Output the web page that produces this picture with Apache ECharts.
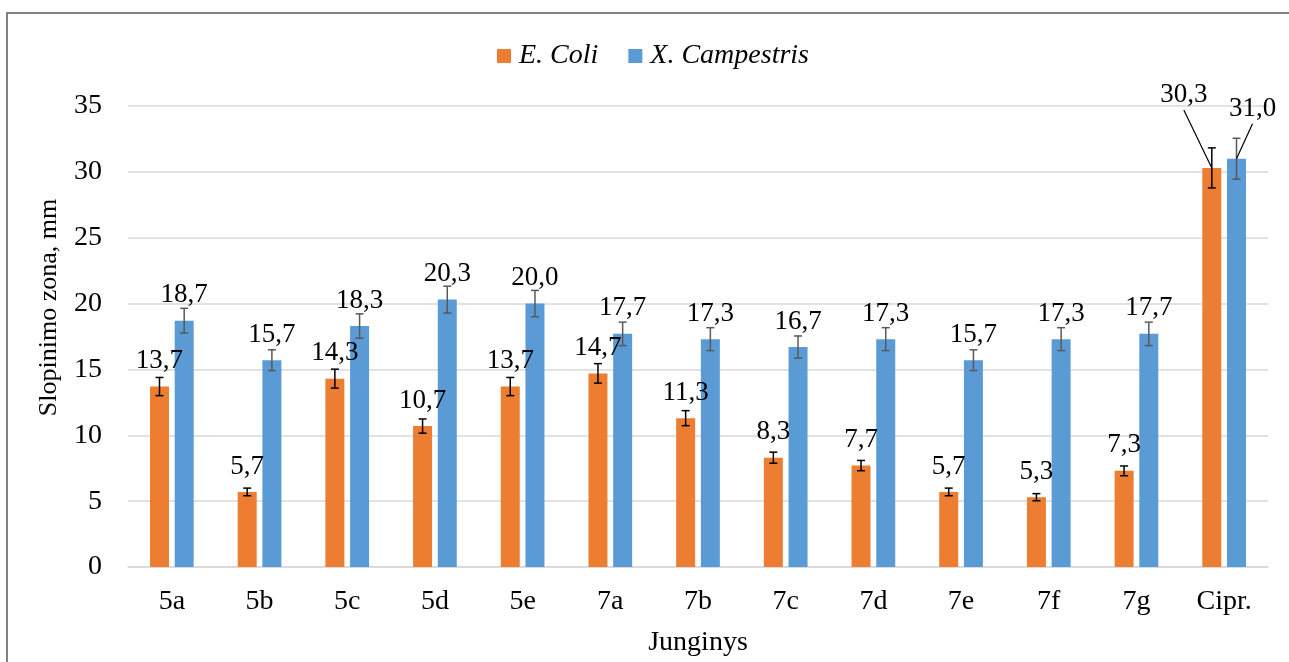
<!DOCTYPE html>
<html>
<head>
<meta charset="utf-8">
<script src="https://cdn.jsdelivr.net/npm/echarts@6/dist/echarts.min.js"></script>
<style>
  html, body { margin: 0; padding: 0; background: #fff; }
  #chart { width: 1289px; height: 662px; }
</style>
</head>
<body>
<div id="chart"></div>
<script>
// Inhibition zone diameters (mm) per compound, with ±5 % error bars
const categories = ['5a', '5b', '5c', '5d', '5e', '7a', '7b', '7c', '7d', '7e', '7f', '7g', 'Cipr.'];
const seriesNames = ['E. Coli', 'X. Campestris'];
const eColi = [13.7, 5.7, 14.3, 10.7, 13.7, 14.7, 11.3, 8.3, 7.7, 5.7, 5.3, 7.3, 30.3];
const xCampestris = [18.7, 15.7, 18.3, 20.3, 20.0, 17.7, 17.3, 16.7, 17.3, 15.7, 17.3, 17.7, 31.0];
const eColiErr = [0.69, 0.29, 0.72, 0.54, 0.69, 0.74, 0.57, 0.42, 0.39, 0.29, 0.27, 0.37, 1.52];
const xCampestrisErr = [0.94, 0.79, 0.92, 1.02, 1.00, 0.89, 0.87, 0.84, 0.87, 0.79, 0.87, 0.89, 1.55];
const yTicks = { min: 0, max: 35, interval: 5 };

const FONT = "'Liberation Serif', 'Times New Roman', serif";
const ORANGE = '#ED7D31';
const BLUE = '#5B9BD5';
const BAR_W = 19;
const BAR_GAP = 0.3;
const HALF_SPAN = (BAR_W + BAR_W * BAR_GAP) / 2;
const LABEL_RISE = 26;      // label centre above the bar top, px

// Labels of the last group are pulled aside and tied back with leader lines
const lastIdx = categories.length - 1;
const SHIFT_E = [-28, -47];
const SHIFT_X = [16, -24];

const fmt = v => v.toFixed(1).replace('.', ',');

// Error bars (and the leader line of the moved label), placed through the axes
function errorBars(values, errs, offset, color, shift) {
  return {
    type: 'custom',
    z: 5,
    silent: true,
    data: values.map((v, i) => [i, v, errs[i]]),
    renderItem: function (params, api) {
      const i = api.value(0), v = api.value(1), e = api.value(2);
      const hi = api.coord([i, v + e]);
      const lo = api.coord([i, v - e]);
      const top = api.coord([i, v]);
      const x = hi[0] + offset;
      const cap = 4;
      const style = { stroke: color, lineWidth: 1.5 };
      const children = [
        { type: 'line', shape: { x1: x, y1: hi[1], x2: x, y2: lo[1] }, style },
        { type: 'line', shape: { x1: x - cap, y1: hi[1], x2: x + cap, y2: hi[1] }, style },
        { type: 'line', shape: { x1: x - cap, y1: lo[1], x2: x + cap, y2: lo[1] }, style }
      ];
      if (i === lastIdx) {
        children.push({
          type: 'line',
          shape: { x1: x, y1: top[1], x2: x + shift[0], y2: top[1] - LABEL_RISE + shift[1] + 15 },
          style: { stroke: '#000', lineWidth: 1.2 }
        });
      }
      return { type: 'group', children: children };
    }
  };
}

function barSeries(name, values, color, shift) {
  return {
    name: name,
    type: 'bar',
    barWidth: BAR_W,
    barGap: (BAR_GAP * 100) + '%',
    itemStyle: { color: color },
    data: values,
    label: {
      show: true,
      position: 'top',
      distance: 12,
      fontFamily: FONT,
      fontSize: 27,
      color: '#000',
      formatter: p => fmt(p.value)
    },
    labelLayout: function (params) {
      if (params.dataIndex === lastIdx) return { dx: shift[0], dy: shift[1] };
      return {};
    }
  };
}

const chart = echarts.init(document.getElementById('chart'), null, { renderer: 'canvas' });
chart.setOption({
  backgroundColor: '#fff',
  animation: false,
  textStyle: { fontFamily: FONT },
  graphic: [{
    type: 'rect',
    z: 100,
    silent: true,
    shape: { x: 7, y: 13, width: 1400, height: 800 },
    style: { fill: 'none', stroke: '#595959', lineWidth: 1.5 }
  }],
  legend: {
    data: seriesNames,
    left: 492,
    top: 37,
    icon: 'rect',
    itemWidth: 14,
    itemHeight: 14,
    itemGap: 30,
    textStyle: { fontFamily: FONT, fontSize: 28, fontStyle: 'italic', color: '#000', padding: [0, 0, 0, 3] }
  },
  grid: { left: 128, right: 21, top: 106, bottom: 90 },
  xAxis: {
    type: 'category',
    data: categories,
    name: 'Junginys',
    nameLocation: 'middle',
    nameGap: 62,
    nameTextStyle: { fontFamily: FONT, fontSize: 28, color: '#000' },
    axisLine: { lineStyle: { color: '#d9d9d9', width: 1.5 } },
    axisTick: { show: false },
    axisLabel: { fontFamily: FONT, fontSize: 28, color: '#000', margin: 21 }
  },
  yAxis: {
    type: 'value',
    min: yTicks.min,
    max: yTicks.max,
    interval: yTicks.interval,
    name: 'Slopinimo zona, mm',
    nameLocation: 'middle',
    nameGap: 66,
    nameTextStyle: { fontFamily: FONT, fontSize: 26, color: '#000', padding: [0, 0, 0, 58] },
    axisLine: { show: false },
    axisTick: { show: false },
    splitLine: { lineStyle: { color: '#d9d9d9', width: 1.5 } },
    axisLabel: { fontFamily: FONT, fontSize: 28, color: '#000', margin: 26 }
  },
  series: [
    barSeries(seriesNames[0], eColi, ORANGE, SHIFT_E),
    barSeries(seriesNames[1], xCampestris, BLUE, SHIFT_X),
    errorBars(eColi, eColiErr, -HALF_SPAN, '#000', SHIFT_E),
    errorBars(xCampestris, xCampestrisErr, HALF_SPAN, '#595959', SHIFT_X)
  ]
});
</script>
</body>
</html>
